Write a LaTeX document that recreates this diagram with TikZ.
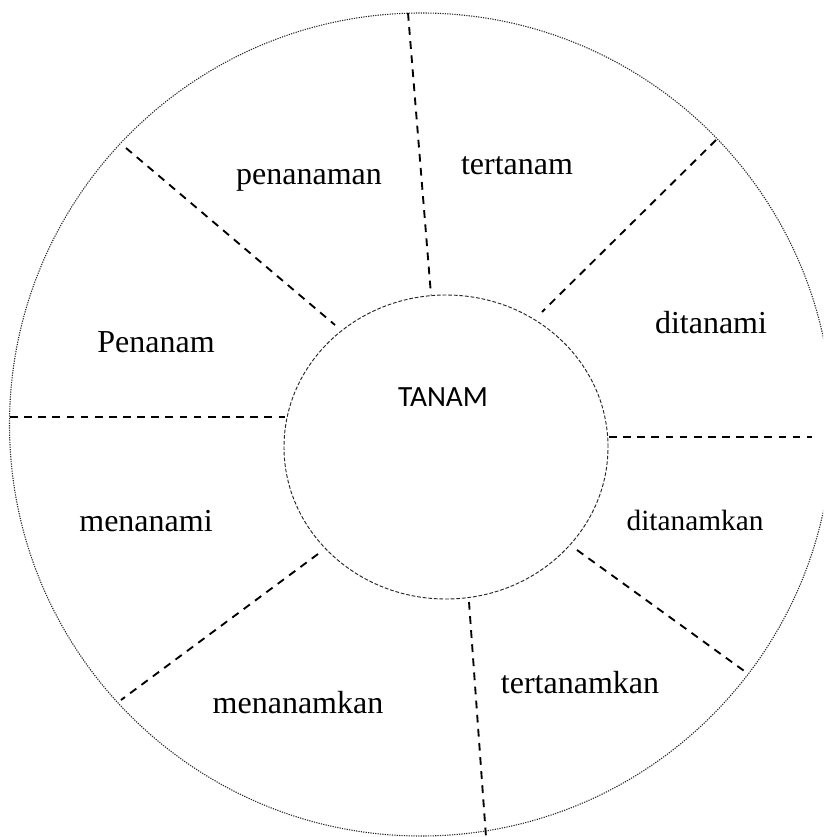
\documentclass[tikz,border=0pt]{standalone}
\usepackage{fontspec}
\setmainfont{Liberation Serif}
\newfontfamily\calfont{Carlito}
\usetikzlibrary{shapes.geometric}
\begin{document}
\begin{tikzpicture}[x=0.375pt,y=-0.375pt,
  spoke/.style={line width=0.7pt,dash pattern=on 2.9pt off 2.4pt},
  outerring/.style={line width=0.4pt,dash pattern=on 0.45pt off 0.45pt,black!85},
  innerring/.style={line width=0.35pt,dash pattern=on 1.4pt off 0.7pt,black!85},
  word/.style={anchor=base,inner sep=0pt,font=\fontsize{12}{14}\selectfont},
  smallword/.style={anchor=base,inner sep=0pt,font=\fontsize{11}{13}\selectfont}]
\useasboundingbox (0,0) rectangle (823,837);
\clip (0,0) rectangle (823,837);
\fill[white] (0,0) rectangle (823,837);
% rings
\draw[outerring] (421,424.5) ellipse [x radius=411.5, y radius=411.5];
\node[innerring,draw,ellipse,minimum width=121.5pt,minimum height=114pt,inner sep=0pt] (core) at (446,447) {};
\node[anchor=base,inner sep=0pt,font=\calfont\fontsize{11}{13}\selectfont] (tanam) at (443,406) {TANAM};
% spoke end points
\coordinate (t1) at (408,13);   \coordinate (t2) at (431,295);
\coordinate (ur1) at (716,140); \coordinate (ur2) at (542,312);
\coordinate (r1) at (609,437);  \coordinate (r2) at (812,437);
\coordinate (lr1) at (577,550); \coordinate (lr2) at (747,673);
\coordinate (b1) at (469,602);  \coordinate (b2) at (486,837);
\coordinate (ll1) at (318,554); \coordinate (ll2) at (121,700);
\coordinate (l1) at (10,417);   \coordinate (l2) at (285,417);
\coordinate (ul1) at (126,148); \coordinate (ul2) at (335,325);
\draw[spoke] (t1) -- (t2);
\draw[spoke] (ur1) -- (ur2);
\draw[spoke] (r1) -- (r2);
\draw[spoke] (lr1) -- (lr2);
\draw[spoke] (b1) -- (b2);
\draw[spoke] (ll1) -- (ll2);
\draw[spoke] (l1) -- (l2);
\draw[spoke] (ul1) -- (ul2);
% labels
\node[word] (w1) at (309,185) {penanaman};
\node[word] (w2) at (517,175) {tertanam};
\node[word] (w3) at (711,333) {ditanami};
\node[word] (w4) at (156,352) {Penanam};
\node[word] (w5) at (146,531) {menanami};
\node[smallword] (w6) at (695,530) {ditanamkan};
\node[word] (w7) at (580,693) {tertanamkan};
\node[word] (w8) at (298,713) {menanamkan};
\end{tikzpicture}
\end{document}
